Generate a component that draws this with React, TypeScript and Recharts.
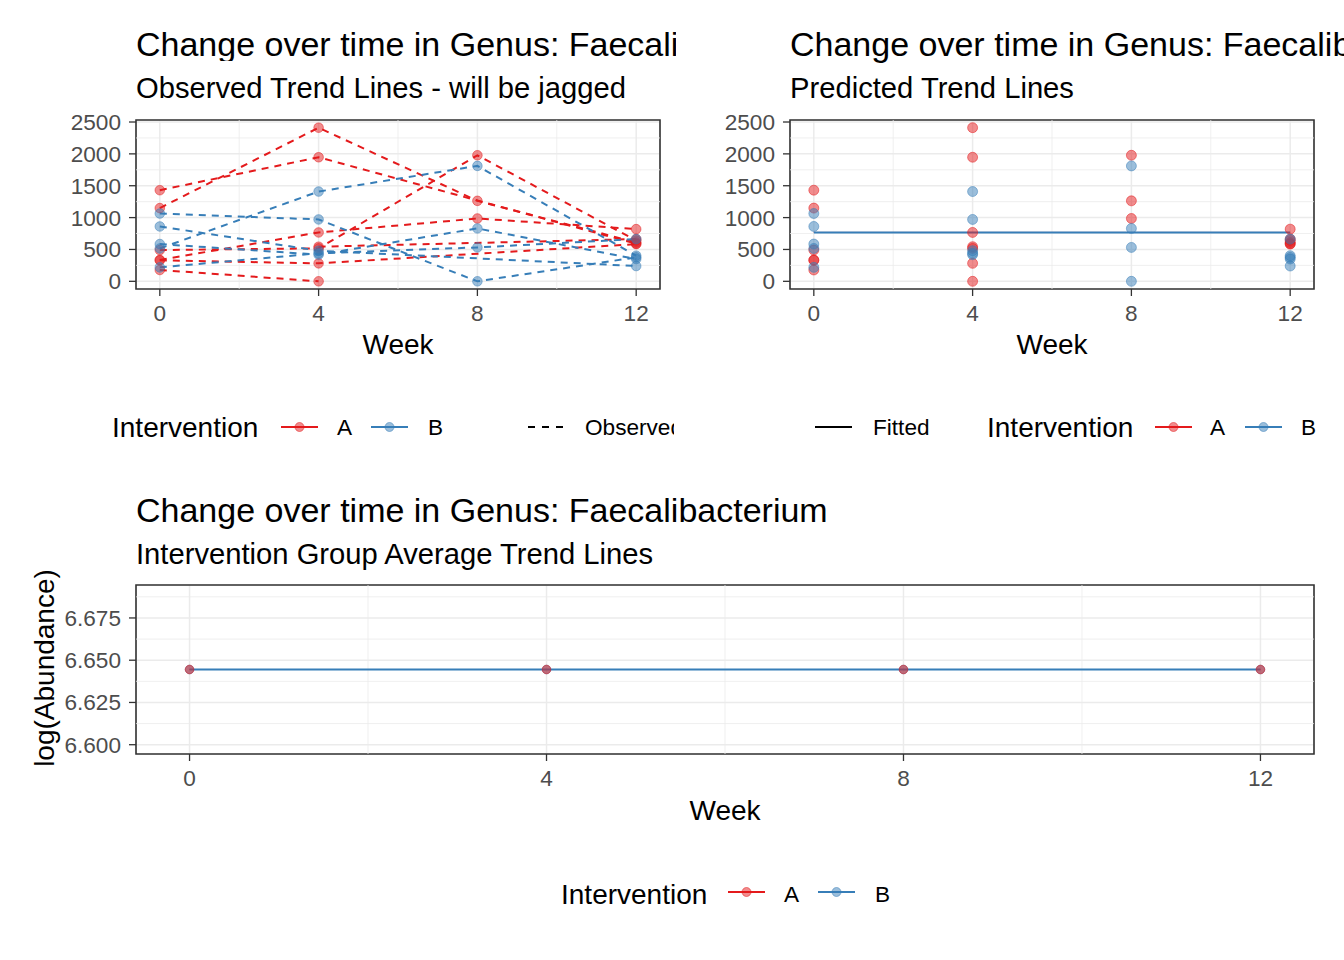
import React from "react";
import {
  ComposedChart, Line, LineChart, ReferenceArea, ReferenceLine, Scatter, XAxis, YAxis, ZAxis, CartesianGrid,
} from "recharts";

const RED = "#E41A1C";
const BLUE = "#377EB8";
const FONT = "'Liberation Sans', Arial, Helvetica, sans-serif";
const TICK_COLOR = "#4D4D4D";
const GRID = "#EBEBEB";

// weeks sampled
const weeks = [0, 4, 8, 12];
const weekMinor = [2, 6, 10];

// observed abundance per subject, intervention A (null = not sampled)
const subjA1 = [1149, 2411, 1263, 610];
const subjA2 = [1430, 1947, null, 590];
const subjA3 = [335, 767, 986, 819];
const subjA4 = [491, 517, 1978, 640];
const subjA5 = [330, 282, null, 584];
const subjA6 = [178, 0, null, null];
const subjA7 = [null, 543, null, 663];

// intervention B
const subjB1 = [1064, 971, 0, 376];
const subjB2 = [861, 480, null, 240];
const subjB3 = [516, 1409, 1811, 402];
const subjB4 = [585, 418, 830, 350];
const subjB5 = [219, 440, 532, 663];

const groupA = [subjA1, subjA2, subjA3, subjA4, subjA5, subjA6, subjA7];
const groupB = [subjB1, subjB2, subjB3, subjB4, subjB5];

// model outputs
const fittedA = [767, 767, 767, 767];
const fittedB = [767, 767, 767, 767];
const meanLogA = [6.6445, 6.6445, 6.6445, 6.6445];
const meanLogB = [6.6445, 6.6445, 6.6445, 6.6445];

const abundTicks = [0, 500, 1000, 1500, 2000, 2500];
const abundMinor = [250, 750, 1250, 1750, 2250];
const abundDomain = [-120.5, 2531.5];
const logTicks = [6.6, 6.625, 6.65, 6.675];
const logMinor = [6.6125, 6.6375, 6.6625, 6.6875];
const logDomain = [6.5945, 6.6945];
const weekDomain = [-0.6, 12.6];

const observedRows = weeks.map((w, i) => {
  const row: Record<string, number | null> = { week: w };
  groupA.forEach((s, j) => (row[`a${j}`] = s[i]));
  groupB.forEach((s, j) => (row[`b${j}`] = s[i]));
  return row;
});

const pointsOf = (group: (number | null)[][]) =>
  group.flatMap((s) => s.map((v, i) => ({ week: weeks[i], value: v })).filter((p) => p.value !== null));

const fittedRows = weeks.map((w, i) => ({ week: w, a: fittedA[i], b: fittedB[i] }));
const meanRows = weeks.map((w, i) => ({ week: w, a: meanLogA[i], b: meanLogB[i] }));

const tickStyle = { fill: TICK_COLOR, fontSize: 22.6, fontFamily: FONT };
const tickLine = { stroke: "#333333", strokeWidth: 1.3 };

function Txt({ x, base, size, children, width, color = "#000", center = false }: any) {
  return (
    <div
      style={{
        position: "absolute",
        left: center ? x - 300 : x,
        top: base - 0.847 * size,
        width: center ? 600 : width,
        textAlign: center ? "center" : "left",
        fontSize: size,
        lineHeight: `${size}px`,
        fontFamily: FONT,
        color,
        whiteSpace: "nowrap",
        overflow: width ? "hidden" : "visible",
      }}
    >
      {children}
    </div>
  );
}

function Key({ x, y, color, dash = false, point = true }: any) {
  return (
    <svg style={{ position: "absolute", left: x, top: y - 10 }} width={38} height={20}>
      <line x1={0} x2={37} y1={10} y2={10} stroke={color} strokeWidth={2} strokeDasharray={dash ? "7 7" : undefined} />
      {point && <circle cx={18.5} cy={10} r={4.5} fill={color} fillOpacity={0.5} stroke={color} strokeOpacity={0.5} />}
    </svg>
  );
}

function xAxis() {
  return (
    <XAxis
      type="number"
      dataKey="week"
      domain={weekDomain}
      ticks={weeks}
      allowDataOverflow
      axisLine={false}
      tickLine={tickLine}
      tickSize={7}
      tickMargin={9}
      height={40}
      tick={tickStyle}
    />
  );
}

function frame(yDom: number[]) {
  return (
    <ReferenceArea
      x1={weekDomain[0]} x2={weekDomain[1]} y1={yDom[0]} y2={yDom[1]}
      fill="none" fillOpacity={0} stroke="#333333" strokeWidth={1.6} ifOverflow="visible"
    />
  );
}

function minorGrid(yMinor: number[]) {
  return [
    ...yMinor.map((v) => <ReferenceLine key={`y${v}`} y={v} stroke={GRID} strokeWidth={0.8} />),
    ...weekMinor.map((v) => <ReferenceLine key={`x${v}`} x={v} stroke={GRID} strokeWidth={0.8} />),
  ];
}

const dotStyle = (c: string, r = 4.8) => ({
  r, fill: c, fillOpacity: 0.5, stroke: c, strokeOpacity: 0.5, strokeWidth: 1, strokeDasharray: "none",
});

function ObservedPanel() {
  return (
    <LineChart width={672} height={360} data={observedRows} margin={{ top: 120, right: 12, bottom: 31, left: 66 }}>
      {minorGrid(abundMinor)}
      <CartesianGrid stroke={GRID} strokeWidth={1.5} />
      {xAxis()}
      <YAxis type="number" domain={abundDomain} ticks={abundTicks} allowDataOverflow axisLine={false}
        tickLine={tickLine} tickSize={7} tickMargin={8} width={70} tick={tickStyle} />
      {groupA.map((_, j) => (
        <Line key={`a${j}`} dataKey={`a${j}`} type="linear" stroke={RED} strokeWidth={2} strokeDasharray="7 6"
          connectNulls dot={dotStyle(RED)} activeDot={false} isAnimationActive={false} />
      ))}
      {groupB.map((_, j) => (
        <Line key={`b${j}`} dataKey={`b${j}`} type="linear" stroke={BLUE} strokeWidth={2} strokeDasharray="7 6"
          connectNulls dot={dotStyle(BLUE)} activeDot={false} isAnimationActive={false} />
      ))}
      {frame(abundDomain)}
    </LineChart>
  );
}

function PredictedPanel() {
  return (
    <ComposedChart width={672} height={360} data={fittedRows} margin={{ top: 120, right: 30, bottom: 31, left: 48 }}>
      {minorGrid(abundMinor)}
      <CartesianGrid stroke={GRID} strokeWidth={1.5} />
      {xAxis()}
      <YAxis type="number" dataKey="value" domain={abundDomain} ticks={abundTicks} allowDataOverflow axisLine={false}
        tickLine={tickLine} tickSize={7} tickMargin={8} width={70} tick={tickStyle} />
      <ZAxis range={[78, 78]} />
      <Scatter data={pointsOf(groupA)} dataKey="value" fill={RED} fillOpacity={0.5} stroke={RED} strokeOpacity={0.5}
        isAnimationActive={false} />
      <Scatter data={pointsOf(groupB)} dataKey="value" fill={BLUE} fillOpacity={0.5} stroke={BLUE} strokeOpacity={0.5}
        isAnimationActive={false} />
      <Line dataKey="a" type="linear" stroke={RED} strokeWidth={1} dot={false} activeDot={false} isAnimationActive={false} />
      <Line dataKey="b" type="linear" stroke={BLUE} strokeWidth={2} dot={false} activeDot={false} isAnimationActive={false} />
      {frame(abundDomain)}
    </ComposedChart>
  );
}

function MeanPanel() {
  return (
    <LineChart width={1344} height={360} data={meanRows} margin={{ top: 120, right: 30, bottom: 31, left: 66 }}>
      {minorGrid(logMinor)}
      <CartesianGrid stroke={GRID} strokeWidth={1.5} />
      {xAxis()}
      <YAxis type="number" domain={logDomain} ticks={logTicks} allowDataOverflow axisLine={false}
        tickLine={tickLine} tickSize={7} tickMargin={8} width={70} tick={tickStyle}
        tickFormatter={(v: number) => v.toFixed(3)} />
      <Line dataKey="a" type="linear" stroke={RED} strokeWidth={1} dot={false} activeDot={false} isAnimationActive={false} />
      <Line dataKey="b" type="linear" stroke={BLUE} strokeWidth={2} dot={dotStyle(BLUE, 4.3)}
        activeDot={false} isAnimationActive={false} />
      <Line dataKey="a" type="linear" stroke="none" dot={dotStyle(RED, 4.3)} activeDot={false} isAnimationActive={false}
        legendType="none" />
      {frame(logDomain)}
    </LineChart>
  );
}

export default function App() {
  return (
    <div style={{ position: "absolute", left: 0, top: 0, width: 1344, height: 960, overflow: "hidden", background: "#fff" }}>
      {/* top left */}
      <div style={{ position: "absolute", left: 0, top: 0 }}><ObservedPanel /></div>
      <Txt x={136} base={56} size={34} width={540}>Change over time in Genus: Faecalibacterium</Txt>
      <Txt x={136} base={99} size={29.2}>Observed Trend Lines - will be jagged</Txt>
      <Txt x={398} base={355} size={28} center>Week</Txt>
      <Txt x={112} base={438} size={28}>Intervention</Txt>
      <Key x={281} y={427} color={RED} />
      <Txt x={337} base={436.5} size={22.6}>A</Txt>
      <Key x={371} y={427} color={BLUE} />
      <Txt x={428} base={436.5} size={22.6}>B</Txt>
      <Key x={528} y={427} color="#000" dash point={false} />
      <Txt x={585} base={436.5} size={22.6} width={89}>Observed</Txt>

      {/* top right */}
      <div style={{ position: "absolute", left: 672, top: 0 }}><PredictedPanel /></div>
      <Txt x={790} base={56} size={34}>Change over time in Genus: Faecalibacterium</Txt>
      <Txt x={790} base={99} size={29.2}>Predicted Trend Lines</Txt>
      <Txt x={1052} base={355} size={28} center>Week</Txt>
      <Key x={815} y={427} color="#000" point={false} />
      <Txt x={873} base={436.5} size={22.6}>Fitted</Txt>
      <Txt x={987} base={438} size={28}>Intervention</Txt>
      <Key x={1155} y={427} color={RED} />
      <Txt x={1210} base={436.5} size={22.6}>A</Txt>
      <Key x={1245} y={427} color={BLUE} />
      <Txt x={1301} base={436.5} size={22.6}>B</Txt>

      {/* bottom */}
      <div style={{ position: "absolute", left: 0, top: 465 }}><MeanPanel /></div>
      <Txt x={136} base={522} size={34}>Change over time in Genus: Faecalibacterium</Txt>
      <Txt x={136} base={565} size={29.2}>Intervention Group Average Trend Lines</Txt>
      <Txt x={725} base={821} size={28} center>Week</Txt>
      <div
        style={{
          position: "absolute", left: 45, top: 668, transform: "translate(-50%, -50%) rotate(-90deg)",
          fontSize: 28, lineHeight: "28px", fontFamily: FONT, whiteSpace: "nowrap", color: "#000",
        }}
      >
        log(Abundance)
      </div>
      <Txt x={561} base={905} size={28}>Intervention</Txt>
      <Key x={728} y={892} color={RED} />
      <Txt x={784} base={903} size={22.6}>A</Txt>
      <Key x={818} y={892} color={BLUE} />
      <Txt x={875} base={903} size={22.6}>B</Txt>
    </div>
  );
}
